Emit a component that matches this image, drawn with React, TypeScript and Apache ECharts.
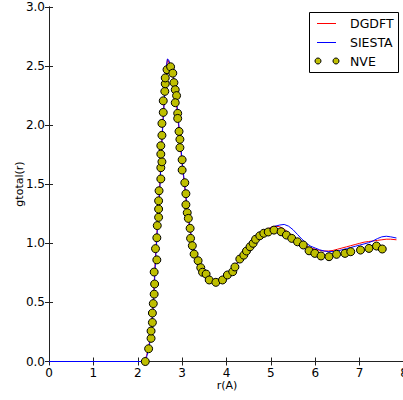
import React, { useEffect, useRef } from "react";
import * as echarts from "echarts";

const lineR = [0, 2.1, 2.15, 2.2, 2.25, 2.3, 2.35, 2.4, 2.45, 2.5, 2.55, 2.6, 2.63, 2.65, 2.67, 2.7, 2.75, 2.8, 2.85, 2.9, 2.95, 3.0, 3.05, 3.1, 3.15, 3.2, 3.25, 3.3, 3.35, 3.4, 3.5, 3.6, 3.7, 3.8, 3.9, 4.0, 4.1, 4.2, 4.3, 4.4, 4.5, 4.6, 4.7, 4.8, 4.9, 5.0, 5.1, 5.2, 5.3, 5.4, 5.5, 5.6, 5.7, 5.8, 5.9, 6.0, 6.1, 6.2, 6.3, 6.4, 6.5, 6.6, 6.7, 6.8, 6.9, 7.0, 7.1, 7.2, 7.3, 7.4, 7.5, 7.6, 7.7, 7.83];

const dgdft = [0, 0, 0.01, 0.05, 0.13, 0.26, 0.5, 0.9, 1.2, 1.52, 1.93, 2.24, 2.4, 2.5, 2.56, 2.53, 2.47, 2.4, 2.26, 2.08, 1.87, 1.67, 1.5, 1.33, 1.18, 1.06, 0.97, 0.91, 0.86, 0.81, 0.75, 0.71, 0.69, 0.685, 0.695, 0.725, 0.765, 0.815, 0.87, 0.92, 0.965, 1.01, 1.05, 1.085, 1.115, 1.135, 1.145, 1.14, 1.12, 1.09, 1.06, 1.03, 1.0, 0.975, 0.96, 0.95, 0.94, 0.935, 0.935, 0.94, 0.95, 0.96, 0.97, 0.98, 0.99, 1.0, 1.01, 1.015, 1.02, 1.025, 1.03, 1.035, 1.035, 1.03];

const siesta = [0, 0, 0, 0.04, 0.11, 0.23, 0.45, 0.85, 1.17, 1.48, 1.9, 2.22, 2.4, 2.51, 2.56, 2.55, 2.49, 2.42, 2.29, 2.11, 1.9, 1.7, 1.52, 1.35, 1.2, 1.08, 0.99, 0.92, 0.87, 0.82, 0.755, 0.71, 0.69, 0.685, 0.69, 0.72, 0.76, 0.81, 0.865, 0.915, 0.96, 1.005, 1.045, 1.08, 1.11, 1.13, 1.145, 1.155, 1.16, 1.145, 1.115, 1.075, 1.035, 1.0, 0.975, 0.96, 0.945, 0.935, 0.93, 0.93, 0.935, 0.945, 0.955, 0.965, 0.975, 0.985, 0.995, 1.005, 1.02, 1.04, 1.055, 1.06, 1.055, 1.045];

const nveR = [2.17, 2.245, 2.3, 2.3, 2.33, 2.33, 2.35, 2.37, 2.38, 2.37, 2.43, 2.4, 2.43, 2.44, 2.47, 2.47, 2.47, 2.48, 2.52, 2.52, 2.545, 2.52, 2.52, 2.545, 2.545, 2.575, 2.575, 2.61, 2.62, 2.62, 2.66, 2.74, 2.79, 2.815, 2.845, 2.875, 2.845, 2.9, 2.9, 2.93, 2.95, 2.95, 3.0, 3.0, 3.06, 3.085, 3.085, 3.115, 3.14, 3.18, 3.19, 3.23, 3.27, 3.36, 3.42, 3.46, 3.54, 3.61, 3.76, 3.91, 4.02, 4.14, 4.19, 4.3, 4.39, 4.45, 4.53, 4.6, 4.655, 4.75, 4.84, 4.94, 5.07, 5.23, 5.35, 5.47, 5.6, 5.73, 5.86, 5.99, 6.13, 6.31, 6.48, 6.67, 6.8, 7.02, 7.21, 7.38, 7.51];

const nveG = [0.0, 0.108, 0.196, 0.258, 0.33, 0.41, 0.49, 0.57, 0.656, 0.757, 0.86, 0.955, 1.047, 1.15, 1.22, 1.29, 1.36, 1.445, 1.545, 1.64, 1.69, 1.755, 1.826, 1.914, 2.015, 2.108, 2.206, 2.286, 2.35, 2.4, 2.47, 2.494, 2.44, 2.36, 2.3, 2.25, 2.19, 2.1, 2.057, 1.947, 1.88, 1.81, 1.707, 1.62, 1.513, 1.42, 1.327, 1.259, 1.211, 1.127, 1.042, 0.98, 0.909, 0.853, 0.794, 0.755, 0.74, 0.69, 0.67, 0.69, 0.732, 0.76, 0.8, 0.867, 0.9, 0.935, 0.971, 1.0, 1.034, 1.064, 1.085, 1.096, 1.112, 1.098, 1.07, 1.042, 1.013, 0.986, 0.937, 0.915, 0.893, 0.887, 0.907, 0.915, 0.929, 0.943, 0.957, 0.977, 0.952];

const xTicks = [0, 1, 2, 3, 4, 5, 6, 7, 8];
const yTicks = [0, 0.5, 1.0, 1.5, 2.0, 2.5, 3.0];

const FONT = "DejaVu Sans";

export default function App() {
  const ref = useRef<HTMLDivElement>(null);
  useEffect(() => {
    document.body.style.margin = "0";
    const chart = echarts.init(ref.current!, null, { renderer: "svg" });
    const axisCommon = {
      type: "value" as const,
      axisLine: { show: true, lineStyle: { color: "#222", width: 1 } },
      axisTick: { show: true, inside: true, length: 4, lineStyle: { color: "#222" } },
      splitLine: { show: false },
    };
    chart.setOption({
      animation: false,
      grid: {
        left: 49,
        top: 7,
        width: 355,
        height: 354.5,
        containLabel: false,
        outerBoundsMode: "none",
      },
      xAxis: [
        {
          ...axisCommon,
          position: "bottom",
          min: xTicks[0],
          max: xTicks[xTicks.length - 1],
          interval: 1,
          axisLabel: { color: "#000", fontSize: 12, fontFamily: FONT, margin: 5 },
        },
        {
          ...axisCommon,
          position: "top",
          min: xTicks[0],
          max: xTicks[xTicks.length - 1],
          interval: 1,
          axisLabel: { show: false },
        },
      ],
      yAxis: [
        {
          ...axisCommon,
          position: "left",
          min: yTicks[0],
          max: yTicks[yTicks.length - 1],
          interval: 0.5,
          axisLabel: {
            color: "#000",
            fontSize: 12,
            fontFamily: FONT,
            margin: 4,
            formatter: (v: number) => v.toFixed(1),
          },
        },
        {
          ...axisCommon,
          position: "right",
          min: yTicks[0],
          max: yTicks[yTicks.length - 1],
          interval: 0.5,
          axisLabel: { show: false },
        },
      ],
      series: [
        {
          name: "DGDFT",
          type: "line",
          data: lineR.map((r, i) => [r, dgdft[i]]),
          showSymbol: false,
          lineStyle: { color: "#ff0000", width: 1 },
          z: 2,
        },
        {
          name: "SIESTA",
          type: "line",
          data: lineR.map((r, i) => [r, siesta[i]]),
          showSymbol: false,
          lineStyle: { color: "#0000ff", width: 1 },
          z: 3,
        },
        {
          name: "NVE",
          type: "scatter",
          data: nveR.map((r, i) => [r, nveG[i]]),
          symbol: "circle",
          symbolSize: 8,
          itemStyle: { color: "#bfbf00", borderColor: "#000", borderWidth: 1, opacity: 1 },
          z: 4,
        },
      ],
      graphic: [
        {
          type: "text",
          z: 100,
          x: 19,
          y: 184,
          rotation: Math.PI / 2,
          style: {
            text: "gtotal(r)",
            fontSize: 11,
            fontFamily: FONT,
            fill: "#000",
            align: "center",
            verticalAlign: "middle",
          },
        },
        {
          type: "text",
          z: 100,
          x: 227,
          y: 385,
          style: {
            text: "r(A)",
            fontSize: 11,
            fontFamily: FONT,
            fill: "#000",
            align: "center",
            verticalAlign: "middle",
          },
        },
        {
          type: "rect",
          z: 100,
          shape: { x: 309.5, y: 12.5, width: 89, height: 60 },
          style: { fill: "#fff", stroke: "#000", lineWidth: 1 },
        },
        {
          type: "line",
          z: 101,
          shape: { x1: 317, y1: 23.5, x2: 336, y2: 23.5 },
          style: { stroke: "#ff0000", lineWidth: 1 },
        },
        {
          type: "line",
          z: 101,
          shape: { x1: 317, y1: 42.5, x2: 336, y2: 42.5 },
          style: { stroke: "#0000ff", lineWidth: 1 },
        },
        {
          type: "circle",
          z: 101,
          shape: { cx: 318, cy: 61, r: 3 },
          style: { fill: "#bfbf00", stroke: "#000", lineWidth: 1 },
        },
        {
          type: "circle",
          z: 101,
          shape: { cx: 336, cy: 61, r: 3 },
          style: { fill: "#bfbf00", stroke: "#000", lineWidth: 1 },
        },
        ...["DGDFT", "SIESTA", "NVE"].map((t, i) => ({
          type: "text",
          z: 101,
          x: 350,
          y: [23.5, 42.5, 61][i],
          style: {
            text: t,
            fontSize: 12.5,
            fontFamily: FONT,
            fill: "#000",
            align: "left",
            verticalAlign: "middle",
          },
        })),
      ],
    });
    return () => chart.dispose();
  }, []);
  return (
    <div
      ref={ref}
      style={{ position: "absolute", left: 0, top: 0, width: 403, height: 400 }}
    />
  );
}
